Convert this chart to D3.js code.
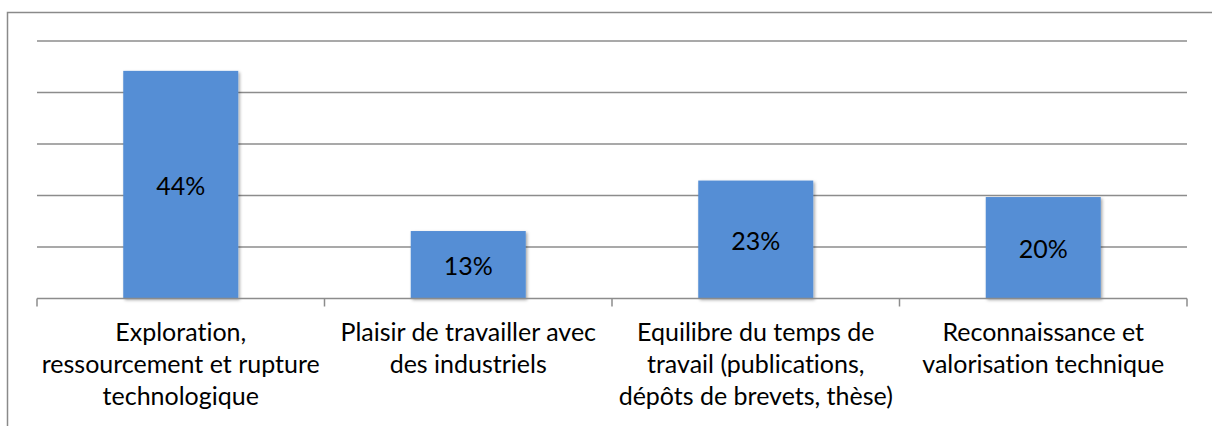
<!DOCTYPE html>
<html>
<head>
<meta charset="utf-8">
<script src="https://cdn.jsdelivr.net/npm/d3@7"></script>
<style>
  body { margin: 0; background: #fff; }
  svg { display: block; }
  text { font-family: Lato, "Open Sans", sans-serif; fill: #000; font-variant-ligatures: none; }
</style>
</head>
<body>
<svg id="chart" width="1212" height="426"></svg>
<script>
// Data
const categories = [
  "Exploration,\nressourcement et rupture\ntechnologique",
  "Plaisir de travailler avec\ndes industriels",
  "Equilibre du temps de\ntravail (publications,\ndépôts de brevets, thèse)",
  "Reconnaissance et\nvalorisation technique"
];
const shares = [0.442, 0.131, 0.229, 0.197];
const gridTicks = [0.1, 0.2, 0.3, 0.4, 0.5];

const plotLeft = 37, plotRight = 1187, plotTop = 41, plotBottom = 298.5;
const fontSize = 25;
const lineHeight = 32;

const svg = d3.select("#chart");

// outer chart border (runs off the right and bottom of the picture)
svg.append("rect")
  .attr("x", 7.5)
  .attr("y", 12.5)
  .attr("width", 1220)
  .attr("height", 430)
  .attr("fill", "none")
  .attr("stroke", "#8a8a8a")
  .attr("stroke-width", 1.5);

// scales
let xScale = d3.scaleBand()
  .domain(categories)
  .range([plotLeft, plotRight])
  .paddingInner(0.6)
  .paddingOuter(0.3);

let yScale = d3.scaleLinear()
  .domain([0, 0.5])
  .range([plotBottom, plotTop]);

// gridlines
svg.append("g")
  .selectAll("line")
  .data(gridTicks)
  .enter()
  .append("line")
  .attr("x1", plotLeft)
  .attr("x2", plotRight)
  .attr("y1", d => yScale(d))
  .attr("y2", d => yScale(d))
  .attr("stroke", "#8c8c8c")
  .attr("stroke-width", 1.5);

// bar shadow filter
const defs = svg.append("defs");
const filter = defs.append("filter")
  .attr("id", "shadow")
  .attr("x", "-10%").attr("y", "-10%")
  .attr("width", "130%").attr("height", "130%");
filter.append("feDropShadow")
  .attr("dx", 1.5).attr("dy", 1.5)
  .attr("stdDeviation", 1.5)
  .attr("flood-color", "#000")
  .attr("flood-opacity", 0.35);

// bars
svg.append("g")
  .selectAll("rect")
  .data(shares)
  .enter()
  .append("rect")
  .attr("x", (d, i) => xScale(categories[i]))
  .attr("width", xScale.bandwidth())
  .attr("y", d => yScale(d))
  .attr("height", d => plotBottom - yScale(d))
  .attr("fill", "#558ed5")
  .attr("filter", "url(#shadow)");

// baseline axis with ticks at category boundaries
const step = xScale.step();
const outer = xScale.paddingOuter() * step;
const edges = [plotLeft].concat(categories.map(c => xScale(c) - outer + step));
const axis = svg.append("g");
axis.append("line")
  .attr("x1", plotLeft).attr("x2", plotRight)
  .attr("y1", plotBottom).attr("y2", plotBottom)
  .attr("stroke", "#8c8c8c")
  .attr("stroke-width", 1.5);
axis.selectAll("line.tick")
  .data(edges)
  .enter()
  .append("line")
  .attr("class", "tick")
  .attr("x1", d => d).attr("x2", d => d)
  .attr("y1", plotBottom).attr("y2", plotBottom + 8)
  .attr("stroke", "#8c8c8c")
  .attr("stroke-width", 1.5);

// value labels
svg.append("g")
  .selectAll("text")
  .data(shares)
  .enter()
  .append("text")
  .attr("x", (d, i) => xScale(categories[i]) + xScale.bandwidth() / 2)
  .attr("y", d => (yScale(d) + plotBottom) / 2)
  .attr("dy", "0.4em")
  .attr("text-anchor", "middle")
  .style("font-size", fontSize + "px")
  .text(d => d3.format(".0%")(d));

// category labels
const labels = svg.append("g")
  .selectAll("text")
  .data(categories)
  .enter()
  .append("text")
  .attr("x", d => xScale(d) + xScale.bandwidth() / 2)
  .attr("y", 341)
  .attr("text-anchor", "middle")
  .style("font-size", fontSize + "px");

labels.selectAll("tspan")
  .data(d => d.split("\n"))
  .enter()
  .append("tspan")
  .attr("x", function() { return this.parentNode.getAttribute("x"); })
  .attr("dy", (d, i) => i === 0 ? 0 : lineHeight)
  .text(d => d);
</script>
</body>
</html>
